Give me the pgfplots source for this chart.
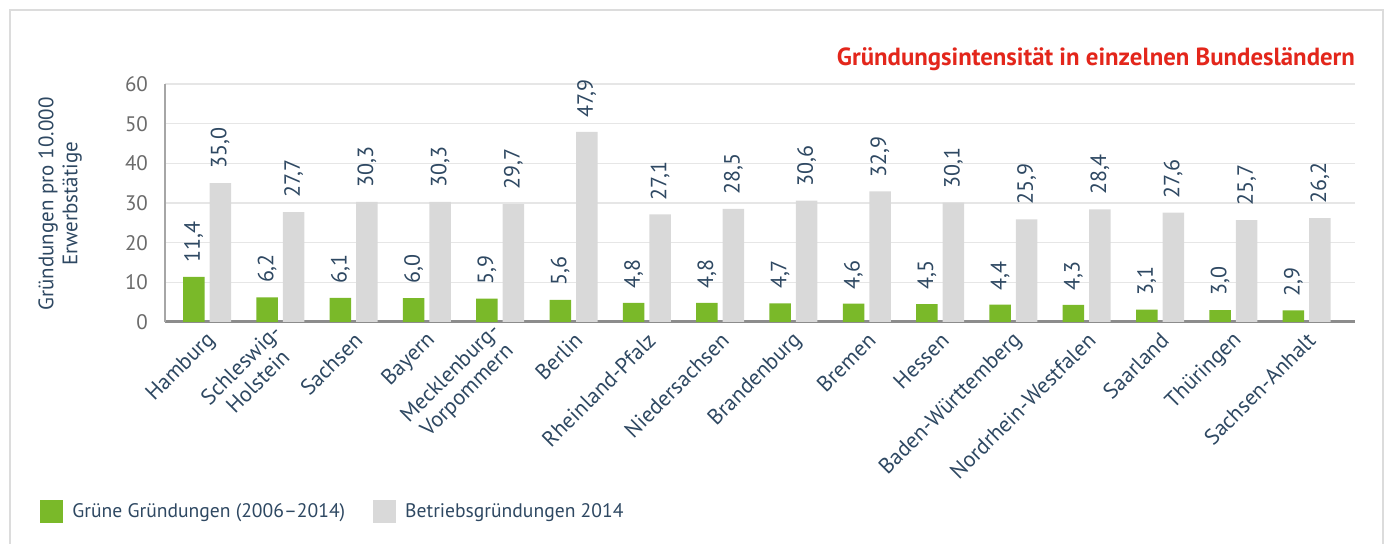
\documentclass[border=0pt]{standalone}
\usepackage{fontspec}
\setmainfont{PT Sans}
\usepackage{pgfplots}
\pgfplotsset{compat=1.18}

\definecolor{gruen}{HTML}{7AB929}
\definecolor{grau}{HTML}{D9D9D9}
\definecolor{labelblau}{HTML}{2E4862}
\definecolor{tickgrau}{HTML}{6B6B6B}
\definecolor{titelrot}{HTML}{E3261B}
\definecolor{rahmen}{HTML}{DCDCDC}
\definecolor{gitter}{HTML}{E6E6E6}

\begin{document}
\begin{tikzpicture}
\useasboundingbox (0,0) rectangle (694.5pt,272pt);
% frame around the chart
\draw[rahmen, line width=1pt] (5pt,0) -- (5pt,267pt) -- (691.5pt,267pt) -- (691.5pt,0);

\begin{axis}[
    at={(82.5pt,111pt)}, anchor=south west,
    scale only axis,
    width=595pt, height=119pt,
    xmin=-0.573, xmax=15.66,
    ymin=0, ymax=60,
    ytick={0,10,20,30,40,50,60},
    xtick={0,...,15},
    xticklabels={Hamburg, {Schleswig-\\Holstein}, Sachsen, Bayern,
        {Mecklenburg-\\Vorpommern}, Berlin, Rheinland-Pfalz, Niedersachsen,
        Brandenburg, Bremen, Hessen, Baden-Württemberg, Nordrhein-Westfalen,
        Saarland, Thüringen, Sachsen-Anhalt},
    /pgf/number format/assume math mode=true,
    major tick length=0pt,
    axis x line*=bottom, axis y line*=left,
    axis line style={-},
    x axis line style={draw=black!45, line width=1.5pt},
    y axis line style={draw=black!35, line width=0.75pt},
    ymajorgrids,
    major grid style={gitter, line width=0.75pt},
    yticklabel style={font=\fontsize{10.5}{12}\selectfont, text=tickgrau, xshift=-5pt},
    xticklabel style={font=\fontsize{11}{12}\selectfont, text=labelblau,
        rotate=45, anchor=east, align=center, yshift=-7pt},
    ylabel={Gründungen pro 10.000\\Erwerbstätige},
    ylabel style={at={(axis description cs:-0.0882,0.496)}, anchor=center,
        align=center, font=\fontsize{10.5}{12}\selectfont, text=labelblau},
    title={Gründungsintensität in einzelnen Bundesländern},
    title style={at={(axis description cs:1.0,1.055)}, anchor=east, xshift=3.5pt,
        font=\fontsize{12.4}{14}\selectfont\bfseries, text=titelrot},
    ybar=2.5pt,
    bar width=10.75pt,
    nodes near coords={\pgfmathprintnumber[fixed,fixed zerofill,precision=1,use comma]{\pgfplotspointmeta}},
    every node near coord/.append style={rotate=90, anchor=west, inner xsep=7pt,
        font=\fontsize{11}{12}\selectfont, text=labelblau},
    legend columns=2,
    legend style={at={(axis description cs:-0.110,-0.798)}, anchor=west,
        draw=none, fill=none, font=\fontsize{9.8}{12}\selectfont, text=labelblau,
        /tikz/every even column/.append style={column sep=12pt}},
    legend image code/.code={\path[#1, draw=none] (0pt,-5.75pt) rectangle (11.5pt,5.75pt);
        \path (14pt,0pt);},
]

\addplot[fill=gruen, draw=none] coordinates {
    (0,11.4) (1,6.2) (2,6.1) (3,6.0) (4,5.9) (5,5.6) (6,4.8) (7,4.8)
    (8,4.7) (9,4.6) (10,4.5) (11,4.4) (12,4.3) (13,3.1) (14,3.0) (15,2.9)
};
\addlegendentry{Grüne Gründungen (2006–2014)}

\addplot[fill=grau, draw=none] coordinates {
    (0,35.0) (1,27.7) (2,30.3) (3,30.3) (4,29.7) (5,47.9) (6,27.1) (7,28.5)
    (8,30.6) (9,32.9) (10,30.1) (11,25.9) (12,28.4) (13,27.6) (14,25.7) (15,26.2)
};
\addlegendentry{Betriebsgründungen 2014}

\end{axis}
\end{tikzpicture}
\end{document}
